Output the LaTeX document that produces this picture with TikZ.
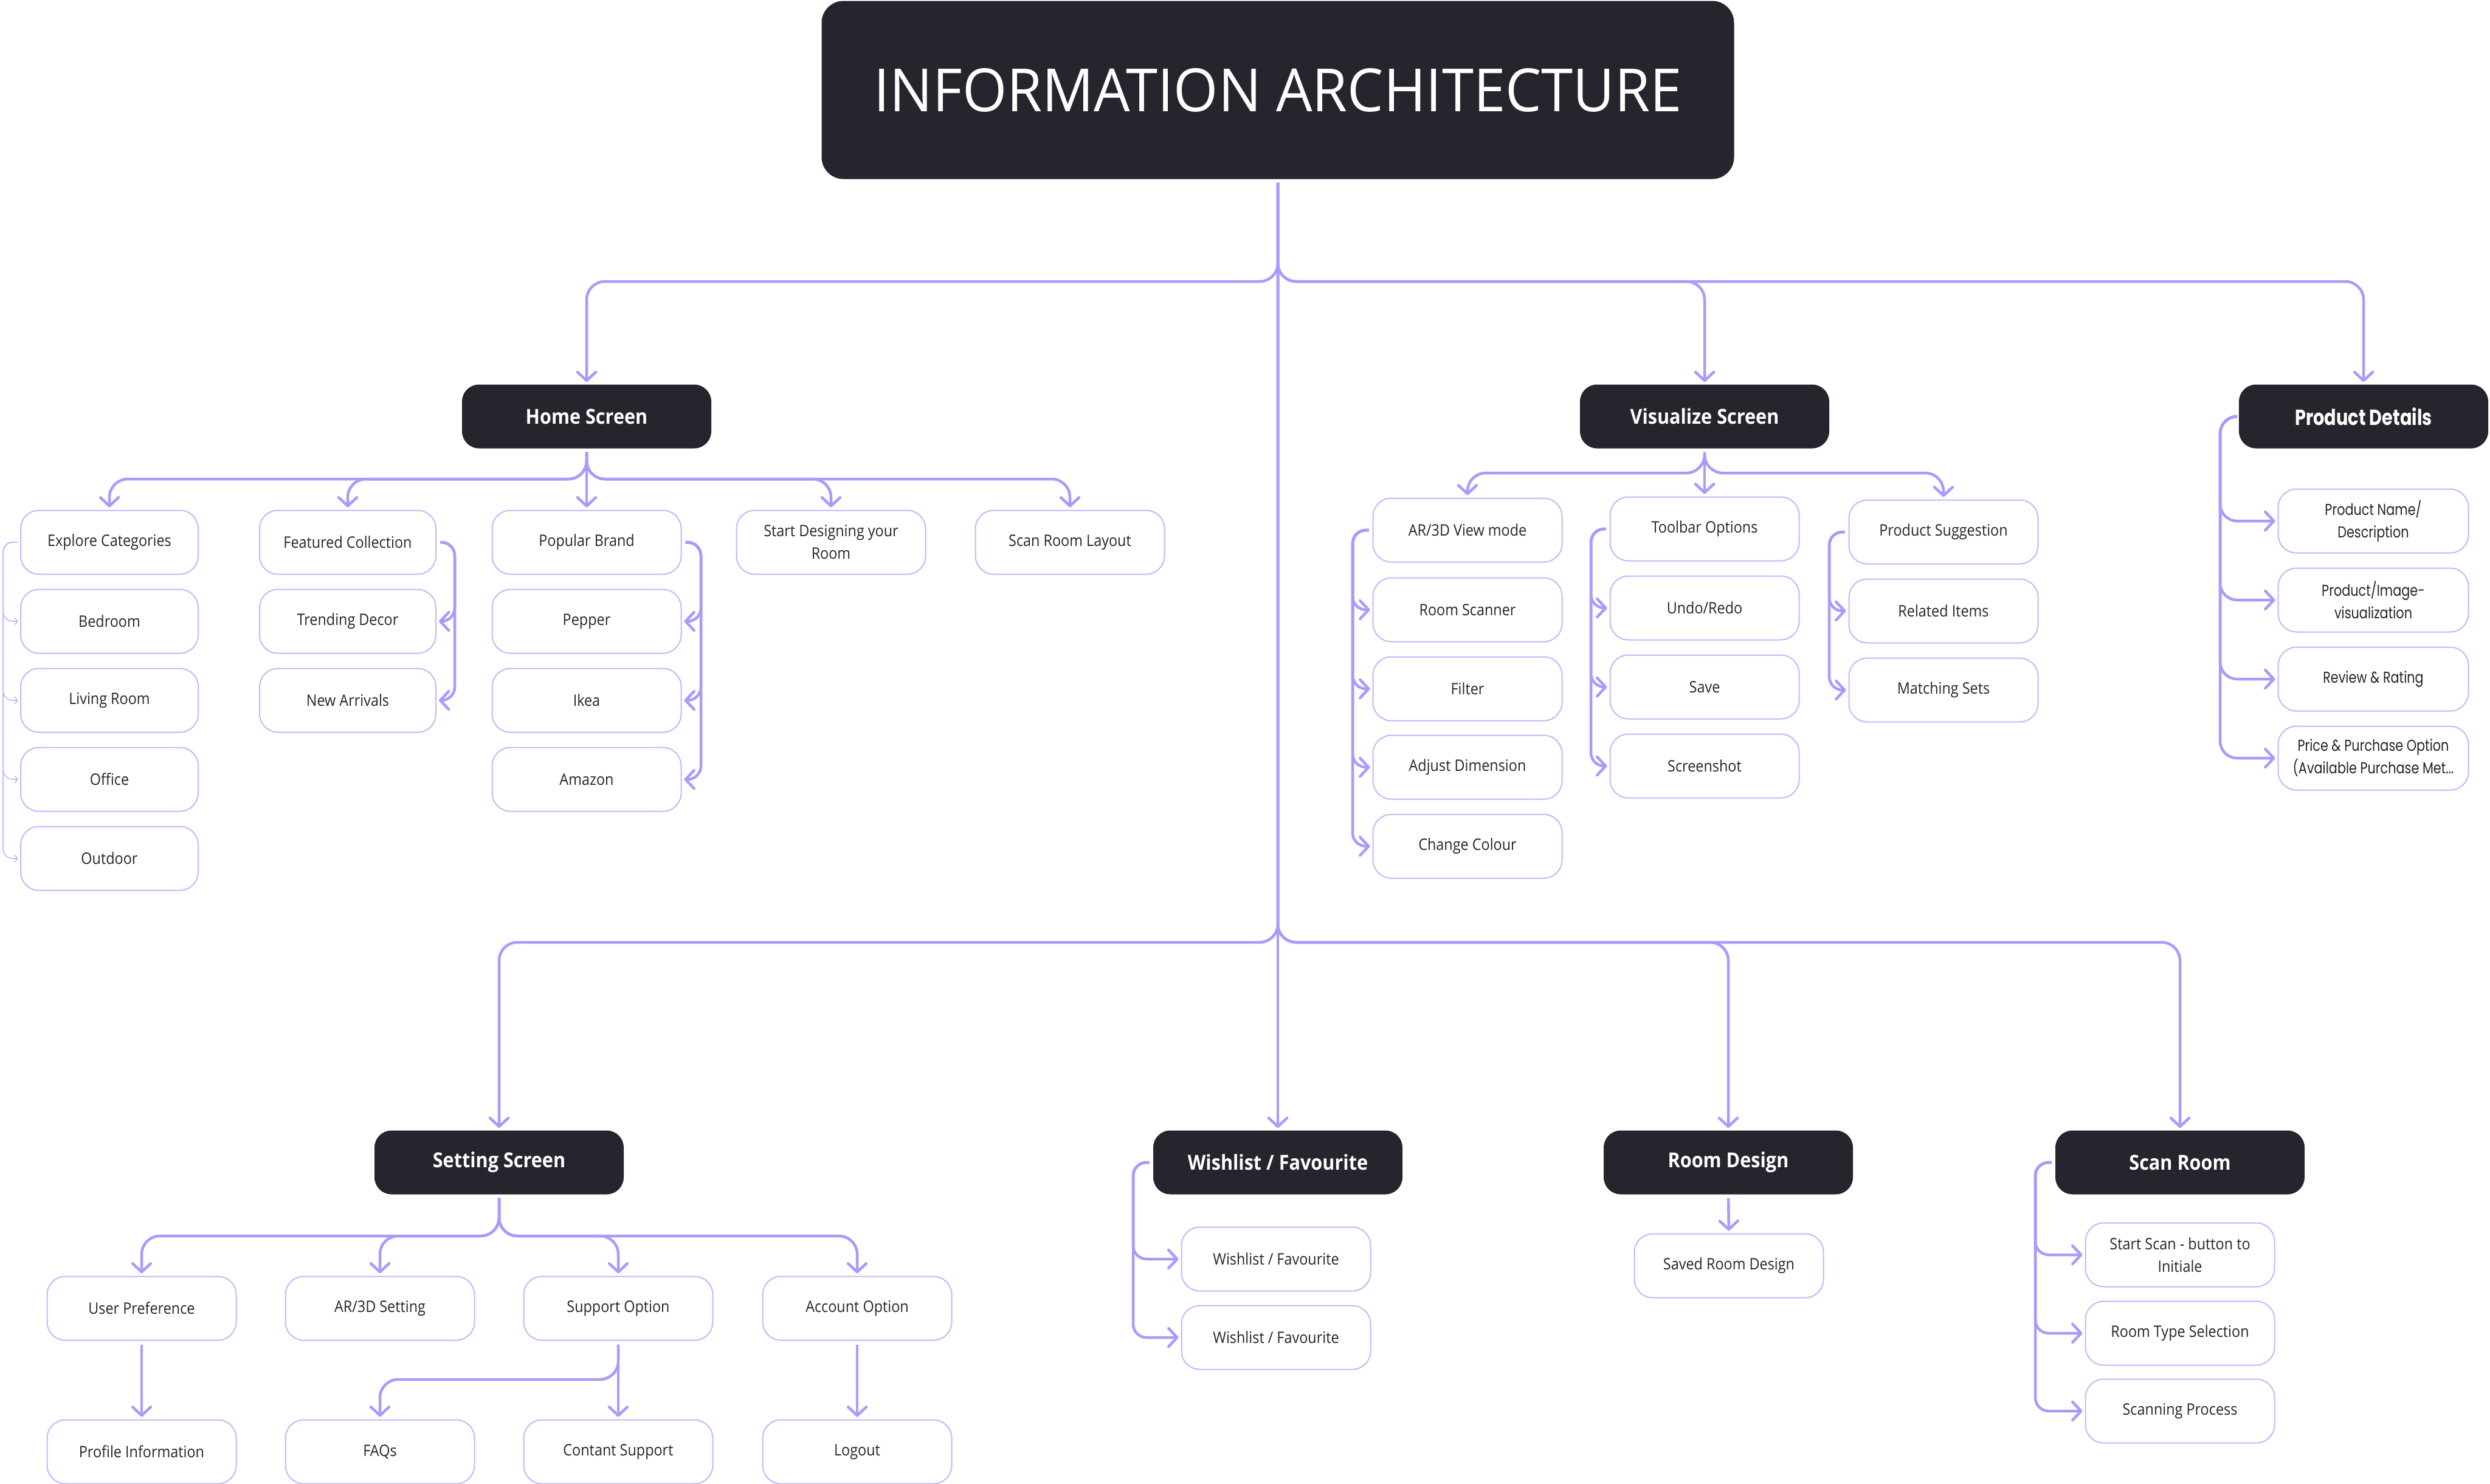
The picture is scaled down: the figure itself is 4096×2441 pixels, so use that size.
\documentclass[tikz,border=0pt]{standalone}
\usepackage{fontspec}
\setmainfont{Open Sans}[FakeStretch=0.9]
\newfontfamily\popfont{Poppins}[FakeStretch=0.8]
\newfontfamily\titlefont{Open Sans}[FakeStretch=0.96]
\usetikzlibrary{arrows.meta}
\definecolor{ink}{HTML}{24252D}
\definecolor{lilac}{HTML}{A89BFF}
\definecolor{lilacb}{HTML}{C2B8FF}
\tikzset{
  hdr/.style={fill=ink, rounded corners=28pt, minimum width=410pt, minimum height=105pt,
    text=white, font=\fontsize{34}{40}\selectfont\bfseries, inner sep=0pt},
  item/.style={draw=lilacb, line width=2pt, fill=white, rounded corners=30pt,
    minimum width=311pt, minimum height=105pt, text=ink,
    font=\fontsize{26}{37}\selectfont, align=center, inner sep=0pt},
  pditem/.style={item, minimum width=313pt, font=\popfont\fontsize{26}{37}\selectfont},
  conn/.style={draw=lilac, line width=4.5pt, rounded corners=30pt,
    -{Straight Barb[length=14pt,width=30pt,round]}, shorten >=4pt, shorten <=6pt},
  brk/.style={conn, rounded corners=22pt},
  thinconn/.style={draw=lilacb, line width=1.6pt, rounded corners=16pt,
    -{Straight Barb[length=5pt,width=12pt]}, shorten >=3pt, shorten <=4pt},
}
\begin{document}
\begin{tikzpicture}[x=1pt,y=-1pt]
\useasboundingbox (0,0) rectangle (4096,2441);
\fill[white] (0,0) rectangle (4096,2441);

% title
\node[fill=ink, rounded corners=36pt, minimum width=1501pt, minimum height=293pt,
  text=white, font=\titlefont\fontsize{98}{98}\selectfont, inner sep=0pt] (title) at (2102,148) {INFORMATION ARCHITECTURE};

% headers
\node[hdr] (home) at (965,685) {Home Screen};
\node[hdr] (vis) at (2804,685) {Visualize Screen};
\node[hdr, font=\popfont\fontsize{36}{40}\selectfont\bfseries] (pd) at (3888,685) {Product Details};
\node[hdr] (set) at (821,1912) {Setting Screen};
\node[hdr] (wish) at (2102,1912) {Wishlist / Favourite};
\node[hdr] (room) at (2843,1912) {Room Design};
\node[hdr] (scan) at (3586,1912) {Scan Room};

% home children
\node[item, minimum width=292pt] (explore) at (180,892) {Explore Categories};
\node[item, minimum width=292pt] (bedroom) at (180,1022) {Bedroom};
\node[item, minimum width=292pt] (living) at (180,1152) {Living Room};
\node[item, minimum width=292pt] (office) at (180,1282) {Office};
\node[item, minimum width=292pt] (outdoor) at (180,1412) {Outdoor};
\node[item, minimum width=290pt] (featured) at (572,892) {Featured Collection};
\node[item, minimum width=290pt] (trending) at (572,1022) {Trending Decor};
\node[item, minimum width=290pt] (newarr) at (572,1152) {New Arrivals};
\node[item] (popular) at (965,892) {Popular Brand};
\node[item] (pepper) at (965,1022) {Pepper};
\node[item] (ikea) at (965,1152) {Ikea};
\node[item] (amazon) at (965,1282) {Amazon};
\node[item] (startdes) at (1367,892) {Start Designing your\\Room};
\node[item] (scanlayout) at (1760,892) {Scan Room Layout};

% visualize children
\node[item] (ar) at (2414,872) {AR/3D View mode};
\node[item] (roomscan) at (2414,1003) {Room Scanner};
\node[item] (filter) at (2414,1133) {Filter};
\node[item] (adjust) at (2414,1262) {Adjust Dimension};
\node[item] (colour) at (2414,1392) {Change Colour};
\node[item] (toolbar) at (2804,870) {Toolbar Options};
\node[item] (undo) at (2804,1000) {Undo/Redo};
\node[item] (save) at (2804,1130) {Save};
\node[item] (shot) at (2804,1260) {Screenshot};
\node[item] (prodsug) at (3197,875) {Product Suggestion};
\node[item] (related) at (3197,1005) {Related Items};
\node[item] (matching) at (3197,1135) {Matching Sets};

% product details children
\node[pditem] (pn) at (3904,857) {Product Name/\\Description};
\node[pditem] (pi) at (3904,987) {Product/Image-\\visualization};
\node[pditem] (rr) at (3904,1117) {Review \& Rating};
\node[pditem] (pp) at (3904,1247) {Price \& Purchase Option\\(Available Purchase Met...};

% setting children
\node[item] (upref) at (233,2152) {User Preference};
\node[item] (arset) at (625,2152) {AR/3D Setting};
\node[item] (support) at (1017,2152) {Support Option};
\node[item] (account) at (1410,2152) {Account Option};
\node[item] (profile) at (233,2388) {Profile Information};
\node[item] (faqs) at (625,2388) {FAQs};
\node[item] (contact) at (1017,2388) {Contant Support};
\node[item] (logout) at (1410,2388) {Logout};

% wishlist children
\node[item] (w1) at (2099,2071) {Wishlist / Favourite};
\node[item] (w2) at (2099,2200) {Wishlist / Favourite};

% room design child
\node[item] (saved) at (2844,2082) {Saved Room Design};

% scan room children
\node[item] (ss) at (3586,2064) {Start Scan - button to\\Initiale};
\node[item] (rt) at (3586,2193) {Room Type Selection};
\node[item] (sp) at (3586,2321) {Scanning Process};

% ---------- connectors ----------
\coordinate (J1) at (2102,463);
\coordinate (J2) at (2102,1550);
\draw[conn] (title.south) -- (J1) -| (home.north);
\draw[conn] (title.south) -- (J1) -| (vis.north);
\draw[conn] (title.south) -- (J1) -| (pd.north);
\draw[conn] (title.south) -- (J2) -| (set.north);
\draw[conn] (title.south) -- (wish.north);
\draw[conn] (title.south) -- (J2) -| (room.north);
\draw[conn] (title.south) -- (J2) -| (scan.north);

% home bus
\coordinate (H) at (965,788);
\foreach \c in {explore,featured,startdes,scanlayout}
  \draw[conn] (home.south) -- (H) -| (\c.north);
\draw[conn] (home.south) -- (popular.north);

% explore bracket (thin)
\coordinate (xe) at (5,0);
\foreach \c in {bedroom,living,office,outdoor}
  \draw[thinconn] (explore.west) -- (explore.west -| xe) |- (\c.west);
% featured bracket
\coordinate (xf) at (748,0);
\foreach \c in {trending,newarr}
  \draw[brk] (featured.east) -- (featured.east -| xf) |- (\c.east);
% popular bracket
\coordinate (xp) at (1153,0);
\foreach \c in {pepper,ikea,amazon}
  \draw[brk] (popular.east) -- (popular.east -| xp) |- (\c.east);

% visualize bus
\coordinate (V) at (2804,778);
\draw[conn] (vis.south) -- (V) -| (ar.north);
\draw[conn] (vis.south) -- (toolbar.north);
\draw[conn] (vis.south) -- (V) -| (prodsug.north);

\coordinate (xa) at (2225,0);
\foreach \c in {roomscan,filter,adjust,colour}
  \draw[brk] (ar.west) -- (ar.west -| xa) |- (\c.west);
\coordinate (xt) at (2617,0);
\foreach \c in {undo,save,shot}
  \draw[brk] (toolbar.west) -- (toolbar.west -| xt) |- (\c.west);
\coordinate (xs) at (3009,0);
\foreach \c in {related,matching}
  \draw[brk] (prodsug.west) -- (prodsug.west -| xs) |- (\c.west);

% product details bracket
\coordinate (xpd) at (3652,0);
\foreach \c in {pn,pi,rr,pp}
  \draw[brk, rounded corners=28pt] (pd.west) -- (pd.west -| xpd) |- (\c.west);

% setting bus
\coordinate (S) at (821,2033);
\foreach \c in {upref,arset,support,account}
  \draw[conn] (set.south) -- (S) -| (\c.north);
\draw[conn] (upref.south) -- (profile.north);
\coordinate (SS) at (1017,2269);
\draw[conn] (support.south) -- (SS) -| (faqs.north);
\draw[conn] (support.south) -- (contact.north);
\draw[conn] (account.south) -- (logout.north);

% wishlist bracket
\coordinate (xw) at (1864,0);
\foreach \c in {w1,w2}
  \draw[brk] (wish.west) -- (wish.west -| xw) |- (\c.west);

% room design
\draw[conn] (room.south) -- (saved.north);

% scan room bracket
\coordinate (xsr) at (3348,0);
\foreach \c in {ss,rt,sp}
  \draw[brk] (scan.west) -- (scan.west -| xsr) |- (\c.west);
\end{tikzpicture}
\end{document}
